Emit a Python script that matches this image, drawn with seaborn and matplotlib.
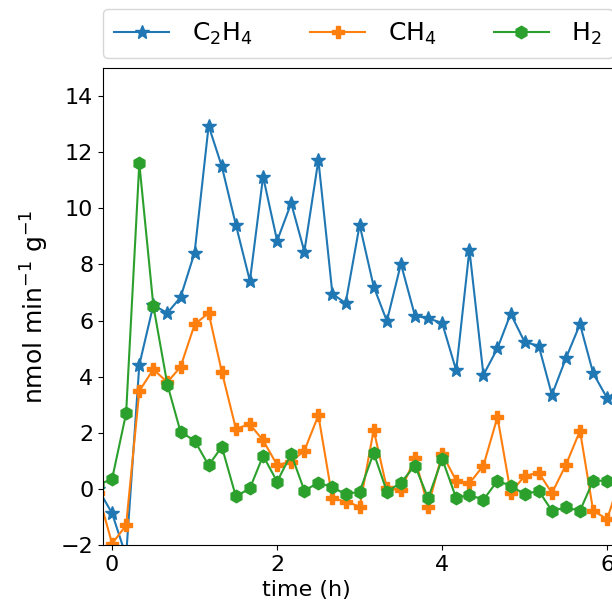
import matplotlib
matplotlib.use("Agg")
import matplotlib.pyplot as plt
import pandas as pd
import seaborn as sns

# sampling times (h), 10 min apart
time_h = [-0.17, 0.0, 0.17, 0.33, 0.5, 0.67, 0.83, 1.0, 1.17, 1.33, 1.5, 1.67,
          1.83, 2.0, 2.17, 2.33, 2.5, 2.67, 2.83, 3.0, 3.17, 3.33, 3.5, 3.67,
          3.83, 4.0, 4.17, 4.33, 4.5, 4.67, 4.83, 5.0, 5.17, 5.33, 5.5, 5.67,
          5.83, 6.0, 6.17]

c2h4 = [0.0, -0.87, -2.4, 4.42, 6.55, 6.27, 6.83, 8.42, 12.94, 11.49, 9.41,
        7.41, 11.13, 8.84, 10.18, 8.46, 11.72, 6.95, 6.62, 9.41, 7.21, 5.98,
        8.02, 6.17, 6.08, 5.91, 4.22, 8.52, 4.06, 5.01, 6.24, 5.23, 5.10, 3.35,
        4.66, 5.87, 4.12, 3.23, 3.6]

ch4 = [-0.15, -1.95, -1.3, 3.49, 4.26, 3.8, 4.35, 5.86, 6.27, 4.17, 2.15, 2.3,
       1.73, 0.85, 0.97, 1.36, 2.62, -0.34, -0.45, -0.63, 2.10, 0.02, -0.04,
       1.09, -0.63, 1.25, 0.29, 0.2, 0.83, 2.56, -0.13, 0.46, 0.58, -0.15, 0.86,
       2.07, -0.78, -1.08, 0.5]

h2 = [0.15, 0.35, 2.69, 11.6, 6.53, 3.72, 2.03, 1.72, 0.84, 1.5, -0.27, 0.02,
      1.18, 0.26, 1.24, -0.06, 0.22, 0.06, -0.19, -0.1, 1.28, -0.1, 0.22, 0.83,
      -0.33, 1.07, -0.33, -0.21, -0.39, 0.29, 0.11, -0.19, -0.07, -0.78, -0.66,
      -0.78, 0.29, 0.29, 0.3]

gases = [r"C$_2$H$_4$", r"CH$_4$", r"H$_2$"]
colors = ["#1f77b4", "#ff7f0e", "#2ca02c"]
markers = ["*", "P", "h"]
sizes = [10, 9, 9]

df = pd.DataFrame({"time": time_h, gases[0]: c2h4, gases[1]: ch4, gases[2]: h2})

plt.rcParams["font.size"] = 16

fig = plt.figure(figsize=(6.12, 6.12), dpi=100)
# axes runs past the right edge of the picture, as in the original crop
ax = fig.add_axes([103 / 612, 67 / 612, 510 / 612, 477 / 612])

for gas, col, mk, ms in zip(gases, colors, markers, sizes):
    sns.lineplot(
        data=df,
        x="time",
        y=gas,
        ax=ax,
        color=col,
        marker=mk,
        markersize=ms,
        markeredgecolor=col,
        markeredgewidth=1,
        linewidth=1.5,
        label=gas,
    )

ax.set_xlim(-0.11, 6.07)
ax.set_ylim(-2, 15)
ax.set_xticks([0, 2, 4, 6])
ax.set_yticks(range(-2, 15, 2))
ax.set_xlabel("time (h)", fontsize=16)
ax.set_ylabel(r"nmol min$^{-1}$ g$^{-1}$", fontsize=18, labelpad=7)
ax.xaxis.label.set_x(0.398)

ax.legend(
    loc="lower left",
    bbox_to_anchor=(0.0, 1.021, 1.0, 0.1),
    mode="expand",
    ncol=3,
    fontsize=18,
    handlelength=2.2,
    handletextpad=0.9,
    borderpad=0.45,
    borderaxespad=0.0,
)

fig.savefig("out.png", dpi=100)
